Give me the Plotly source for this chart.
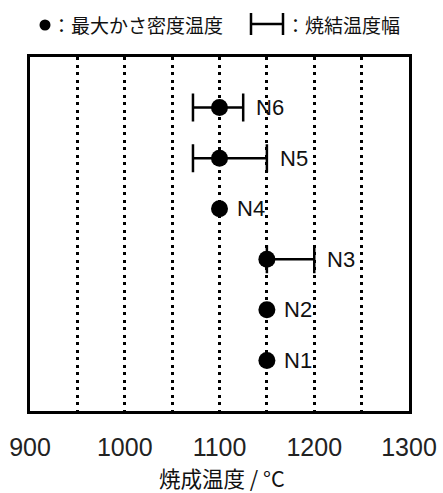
import plotly.graph_objects as go

# ---- data ----
samples = ["N1", "N2", "N3", "N4", "N5", "N6"]
y_pos = [1, 2, 3, 4, 5, 6]
max_density_temp = [1150, 1150, 1150, 1100, 1100, 1100]   # 最大かさ密度温度
sinter_low = [None, None, 1150, None, 1072, 1072]          # 焼結温度幅 lower
sinter_high = [None, None, 1200, None, 1150, 1125]         # 焼結温度幅 upper
tick_vals = [900, 950, 1000, 1050, 1100, 1150, 1200, 1250, 1300]
tick_text = ["900", "", "1000", "", "1100", "", "1200", "", "1300"]
x_title = "焼成温度 / °C"
legend_dot_text = "：最大かさ密度温度"
legend_bar_text = "：焼結温度幅"

FONT = "Liberation Sans, Arial, Noto Sans CJK JP"
CJK = "Noto Sans CJK JP, Liberation Sans"

fig = go.Figure()

# error-bar trace (only samples with a range)
eb_x, eb_y, eb_plus, eb_minus = [], [], [], []
for x, y, lo, hi in zip(max_density_temp, y_pos, sinter_low, sinter_high):
    if lo is not None:
        eb_x.append(x); eb_y.append(y)
        eb_plus.append(hi - x); eb_minus.append(x - lo)

fig.add_trace(go.Scatter(
    x=eb_x, y=eb_y, mode="markers",
    marker=dict(size=1, color="rgba(0,0,0,0)"),
    error_x=dict(type="data", symmetric=False, array=eb_plus, arrayminus=eb_minus,
                 color="black", thickness=2.5, width=14),
    hoverinfo="skip", showlegend=False,
))

fig.add_trace(go.Scatter(
    x=max_density_temp, y=y_pos, mode="markers",
    marker=dict(size=17, color="black"),
    showlegend=False,
))

# sample labels
for x, y, hi, name in zip(max_density_temp, y_pos, sinter_high, samples):
    right = hi if hi is not None else x
    fig.add_annotation(x=right, y=y, text=name, showarrow=False,
                       xanchor="left", yanchor="middle",
                       xshift=11 if hi is not None else 15,
                       font=dict(size=22, color="#111", family=FONT))

# legend (drawn above plot)
W0, W1, H0, H1 = 30, 409, 57, 411
def px(xp):
    return (xp - W0) / (W1 - W0)
def py(yp):
    return (H1 - yp) / (H1 - H0)

fig.add_shape(type="circle", xref="paper", yref="paper",
              x0=px(39.5), x1=px(50.5), y0=py(30.5), y1=py(19.5),
              fillcolor="black", line=dict(color="black", width=0))
fig.add_annotation(xref="paper", yref="paper", x=px(50), y=py(25),
                   text=legend_dot_text, showarrow=False,
                   xanchor="left", yanchor="middle",
                   font=dict(size=19, color="#111", family=CJK))
fig.add_shape(type="path", xref="paper", yref="paper",
              path=(f"M {px(251)} {py(13)} L {px(251)} {py(35)} "
                    f"M {px(251)} {py(24)} L {px(283)} {py(24)} "
                    f"M {px(283)} {py(13)} L {px(283)} {py(35)}"),
              line=dict(color="black", width=2.5))
fig.add_annotation(xref="paper", yref="paper", x=px(284), y=py(25),
                   text=legend_bar_text, showarrow=False,
                   xanchor="left", yanchor="middle",
                   font=dict(size=19, color="#111", family=CJK))

# axis title as annotation for exact placement
fig.add_annotation(xref="paper", yref="paper", x=px(222), y=py(477),
                   text=x_title, showarrow=False,
                   xanchor="center", yanchor="middle",
                   font=dict(size=21.5, color="#111", family=CJK))

fig.update_layout(
    width=443, height=493,
    margin=dict(l=30, r=34, t=57, b=82, autoexpand=False),
    paper_bgcolor="white", plot_bgcolor="white",
    font=dict(family=FONT, color="#111"),
    xaxis=dict(
        range=[900, 1300], tickmode="array", tickvals=tick_vals, ticktext=tick_text,
        showgrid=True, gridcolor="black", gridwidth=2.5, griddash="3px,4.5px",
        showline=True, linecolor="black", linewidth=2.5, mirror=True,
        ticks="", ticklabelstandoff=12, zeroline=False, automargin=False,
        tickfont=dict(size=25, color="#222", family=FONT),
    ),
    yaxis=dict(
        range=[0, 7], showticklabels=False, showgrid=False, zeroline=False,
        showline=True, linecolor="black", linewidth=2.5, mirror=True, ticks="",
        automargin=False,
    ),
)

fig.write_html("out.html")
